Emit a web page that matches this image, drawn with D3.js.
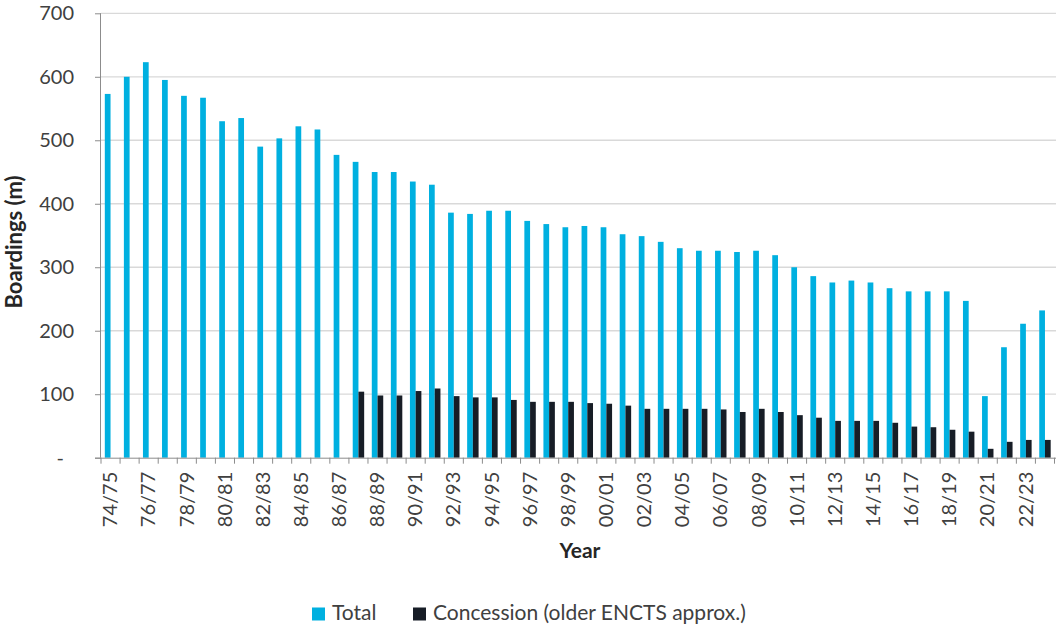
<!DOCTYPE html>
<html>
<head>
<meta charset="utf-8">
<script src="https://cdn.jsdelivr.net/npm/d3@7"></script>
<style>
  html, body { margin: 0; padding: 0; background: #fff; }
  svg { display: block; font-family: Lato, "Open Sans", sans-serif; }
</style>
</head>
<body>
<svg id="chart" width="1057" height="626"></svg>
<script>
// Financial years, 1974/75 to 2023/24
const years = [
  "74/75","75/76","76/77","77/78","78/79","79/80","80/81","81/82","82/83","83/84",
  "84/85","85/86","86/87","87/88","88/89","89/90","90/91","91/92","92/93","93/94",
  "94/95","95/96","96/97","97/98","98/99","99/00","00/01","01/02","02/03","03/04",
  "04/05","05/06","06/07","07/08","08/09","09/10","10/11","11/12","12/13","13/14",
  "14/15","15/16","16/17","17/18","18/19","19/20","20/21","21/22","22/23","23/24"
];

// Total boardings (millions)
const totalBoardings = [
  573, 600, 623, 595, 570, 567, 530, 535, 490, 503,
  522, 517, 477, 466, 450, 450, 435, 430, 386, 384,
  389, 389, 373, 368, 363, 365, 363, 352, 349, 340,
  330, 326, 326, 324, 326, 319, 300, 286, 276, 279,
  276, 267, 262, 262, 262, 247, 97, 174, 211, 232
];

// Concessionary boardings (older ENCTS, approximate), recorded from 87/88
const concessionBoardings = [
  null, null, null, null, null, null, null, null, null, null,
  null, null, null, 104, 98, 98, 105, 109, 97, 95,
  95, 91, 88, 88, 88, 86, 85, 82, 77, 77,
  77, 77, 76, 72, 77, 72, 67, 63, 58, 58,
  58, 55, 49, 48, 44, 41, 14, 25, 28, 28
];

const yTicks = [0, 100, 200, 300, 400, 500, 600, 700];
const seriesNames = ["Total", "Concession (older ENCTS approx.)"];
const seriesColors = ["#00B0E0", "#171D26"];

const svg = d3.select("#chart");
const plotLeft = 101, plotRight = 1054.5, plotTop = 13.3, plotBottom = 457.7;

const x = d3.scaleBand().domain(years).range([plotLeft, plotRight])
  .paddingInner(0.4).paddingOuter(0.2);
const xs = d3.scaleBand().domain([0, 1]).range([0, x.bandwidth()]);
const y = d3.scaleLinear().domain([0, 700]).range([plotBottom, plotTop]);
const step = x.step();

// gridlines
svg.append("g").selectAll("line").data(yTicks.filter(d => d > 0)).join("line")
  .attr("x1", plotLeft).attr("x2", plotRight + 1.5)
  .attr("y1", d => y(d)).attr("y2", d => y(d))
  .attr("stroke", "#d9d9d9").attr("stroke-width", 1.3);

// bars
const series = [totalBoardings, concessionBoardings];
series.forEach((vals, si) => {
  svg.append("g").selectAll("rect")
    .data(years.map((yr, i) => ({ yr, v: vals[i] })).filter(d => d.v != null))
    .join("rect")
    .attr("x", d => x(d.yr) + xs(si))
    .attr("width", xs.bandwidth())
    .attr("y", d => y(d.v))
    .attr("height", d => y(0) - y(d.v))
    .attr("fill", seriesColors[si]);
});

// y axis
const yAxis = svg.append("g").attr("transform", `translate(${plotLeft},0)`)
  .call(d3.axisLeft(y).tickValues(yTicks).tickSize(6).tickPadding(21)
    .tickFormat(d => d === 0 ? "-" : d3.format("d")(d)));
yAxis.select(".domain").attr("stroke", "#8c8c8c").attr("d", `M-0.5,${plotTop}V${plotBottom}`);
yAxis.selectAll(".tick line").attr("stroke", "#8c8c8c");
yAxis.selectAll(".tick text").attr("font-size", 20).attr("fill", "#404040")
  .attr("font-family", "Lato, sans-serif");
yAxis.selectAll(".tick").filter(d => d === 0).select("text").attr("x", -37);

// x axis: boundary ticks between categories
const xAxis = svg.append("g");
xAxis.append("line").attr("x1", plotLeft - 6).attr("x2", plotRight + 1.5)
  .attr("y1", plotBottom + 0.5).attr("y2", plotBottom + 0.5).attr("stroke", "#8c8c8c");
xAxis.selectAll(".bt").data(d3.range(years.length + 1)).join("line")
  .attr("class", "bt")
  .attr("x1", i => plotLeft + i * step).attr("x2", i => plotLeft + i * step)
  .attr("y1", plotBottom).attr("y2", plotBottom + 6).attr("stroke", "#8c8c8c");

// x labels, every other year
xAxis.selectAll(".lab").data(years.filter((d, i) => i % 2 === 0)).join("text")
  .attr("class", "lab")
  .attr("transform", d => `translate(${x(d) - x.paddingOuter() * step + step / 2 - 0.5},${plotBottom + 14}) rotate(-90)`)
  .attr("text-anchor", "end").attr("dy", "0.36em")
  .attr("font-size", 20).attr("fill", "#404040")
  .text(d => d);

// axis titles
svg.append("text")
  .attr("transform", `translate(22,242) rotate(-90)`)
  .attr("text-anchor", "middle")
  .attr("font-size", 22).attr("font-weight", "bold").attr("fill", "#262626")
  .text("Boardings (m)");
svg.append("text")
  .attr("x", 580).attr("y", 558)
  .attr("text-anchor", "middle")
  .attr("font-size", 21).attr("font-weight", "bold").attr("fill", "#262626")
  .text("Year");

// legend
const legendX = [312, 413];
const lg = svg.append("g");
seriesNames.forEach((name, i) => {
  lg.append("rect").attr("x", legendX[i]).attr("y", 607.5)
    .attr("width", 13).attr("height", 13).attr("fill", seriesColors[i]);
  lg.append("text").attr("x", legendX[i] + 20).attr("y", 620)
    .attr("font-size", 21).attr("fill", "#404040").text(name);
});
</script>
</body>
</html>
